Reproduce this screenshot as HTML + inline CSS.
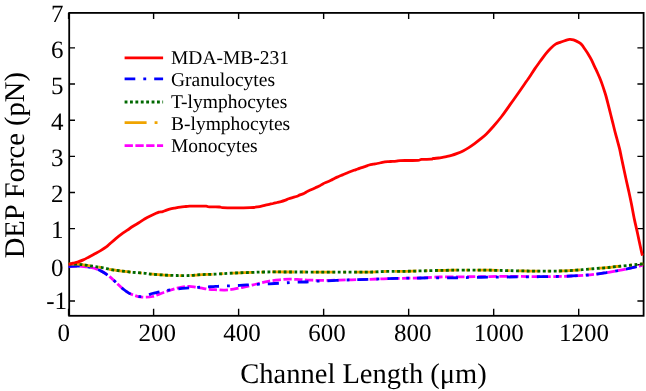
<!DOCTYPE html>
<html><head><meta charset="utf-8"><style>
html,body{margin:0;padding:0;background:#fff;}
svg{display:block;will-change:transform;}
text{text-rendering:geometricPrecision;}
text{font-family:"Liberation Serif",serif;fill:#000;}
</style></head><body>
<svg width="646" height="391" viewBox="0 0 646 391">
<rect width="646" height="391" fill="#fff"/>

<g stroke="#000" stroke-width="1.4" fill="none">
<path d="M68.58,315.80 V308.80 M68.58,12.90 V18.90 M153.60,315.80 V308.80 M153.60,12.90 V18.90 M238.62,315.80 V308.80 M238.62,12.90 V18.90 M323.64,315.80 V308.80 M323.64,12.90 V18.90 M408.66,315.80 V308.80 M408.66,12.90 V18.90 M493.68,315.80 V308.80 M493.68,12.90 V18.90 M578.70,315.80 V308.80 M578.70,12.90 V18.90 M69.20,300.95 H75.00 M643.60,300.95 H637.40 M69.20,264.80 H75.00 M643.60,264.80 H637.40 M69.20,228.65 H75.00 M643.60,228.65 H637.40 M69.20,192.50 H75.00 M643.60,192.50 H637.40 M69.20,156.35 H75.00 M643.60,156.35 H637.40 M69.20,120.20 H75.00 M643.60,120.20 H637.40 M69.20,84.05 H75.00 M643.60,84.05 H637.40 M69.20,47.90 H75.00 M643.60,47.90 H637.40"/>
</g>
<rect x="69.2" y="12.9" width="574.4" height="302.90000000000003" fill="none" stroke="#000" stroke-width="1.8"/>
<g fill="none" stroke-linejoin="round">
<path d="M68.60,266.50 C70.13,266.45 75.20,266.20 77.80,266.20 C80.40,266.20 82.07,266.30 84.20,266.50 C86.33,266.70 88.47,266.97 90.60,267.40 C92.73,267.83 94.88,268.28 97.00,269.10 C99.12,269.92 101.18,271.03 103.30,272.30 C105.42,273.57 107.57,275.00 109.70,276.70 C111.83,278.40 113.97,280.53 116.10,282.50 C118.23,284.47 120.37,286.73 122.50,288.50 C124.63,290.27 126.77,291.92 128.90,293.10 C131.03,294.28 133.45,294.97 135.30,295.60 C137.15,296.23 138.18,296.63 140.00,296.90 C141.82,297.17 144.13,297.27 146.20,297.20 C148.27,297.13 150.33,296.97 152.40,296.50 C154.47,296.03 156.53,295.15 158.60,294.40 C160.67,293.65 162.73,292.73 164.80,292.00 C166.87,291.27 168.93,290.63 171.00,290.00 C173.07,289.37 175.15,288.72 177.20,288.20 C179.25,287.68 181.25,287.20 183.30,286.90 C185.35,286.60 187.43,286.35 189.50,286.40 C191.57,286.45 193.63,286.90 195.70,287.20 C197.77,287.50 199.83,287.87 201.90,288.20 C203.97,288.53 205.92,288.95 208.10,289.20 C210.28,289.45 212.20,289.55 215.00,289.70 C217.80,289.85 221.80,290.20 224.90,290.10 C228.00,290.00 230.08,289.68 233.60,289.10 C237.12,288.52 241.88,287.53 246.00,286.60 C250.12,285.67 254.60,284.38 258.30,283.50 C262.00,282.62 264.68,281.92 268.20,281.30 C271.72,280.68 275.77,280.15 279.40,279.80 C283.03,279.45 286.58,279.23 290.00,279.20 C293.42,279.17 296.60,279.45 299.90,279.60 C303.20,279.75 306.28,279.97 309.80,280.10 C313.32,280.23 316.05,280.40 321.00,280.40 C325.95,280.40 334.35,280.20 339.50,280.10 C344.65,280.00 347.35,279.92 351.90,279.80 C356.45,279.68 361.52,279.57 366.80,279.40 C372.08,279.23 377.70,278.98 383.60,278.80 C389.50,278.62 396.02,278.43 402.20,278.30 C408.38,278.17 414.40,278.22 420.70,278.00 C427.00,277.78 430.58,277.22 440.00,277.00 C449.42,276.78 464.82,276.82 477.20,276.70 C489.58,276.58 503.87,276.30 514.30,276.30 C524.73,276.30 531.43,276.70 539.80,276.70 C548.17,276.70 557.28,276.52 564.50,276.30 C571.72,276.08 577.82,275.75 583.10,275.40 C588.38,275.05 592.30,274.67 596.20,274.20 C600.10,273.73 603.08,273.17 606.50,272.60 C609.92,272.03 613.28,271.43 616.70,270.80 C620.12,270.17 623.58,269.52 627.00,268.80 C630.42,268.08 634.53,267.13 637.20,266.50 C639.87,265.87 642.03,265.25 643.00,265.00" stroke="#ff00ff" stroke-width="2.8" stroke-dasharray="8.3,2.5"/>
<path d="M68.60,266.50 C70.13,266.45 75.20,266.20 77.80,266.20 C80.40,266.20 82.07,266.30 84.20,266.50 C86.33,266.70 88.47,266.97 90.60,267.40 C92.73,267.83 94.88,268.28 97.00,269.10 C99.12,269.92 101.18,271.03 103.30,272.30 C105.42,273.57 107.57,275.00 109.70,276.70 C111.83,278.40 113.97,280.53 116.10,282.50 C118.23,284.47 120.37,286.73 122.50,288.50 C124.63,290.27 126.77,291.92 128.90,293.10 C131.03,294.28 133.17,295.02 135.30,295.60 C137.43,296.18 139.68,296.65 141.70,296.60 C143.72,296.55 145.62,295.82 147.40,295.30 C149.18,294.78 150.63,294.02 152.40,293.50 C154.17,292.98 155.73,292.70 158.00,292.20 C160.27,291.70 162.80,291.02 166.00,290.50 C169.20,289.98 173.90,289.48 177.20,289.10 C180.50,288.72 182.72,288.47 185.80,288.20 C188.88,287.93 192.40,287.70 195.70,287.50 C199.00,287.30 202.30,287.18 205.60,287.00 C208.90,286.82 212.08,286.57 215.50,286.40 C218.92,286.23 222.05,286.17 226.10,286.00 C230.15,285.83 235.05,285.67 239.80,285.40 C244.55,285.13 249.65,284.67 254.60,284.40 C259.55,284.13 264.55,284.05 269.50,283.80 C274.45,283.55 280.05,283.15 284.30,282.90 C288.55,282.65 291.57,282.45 295.00,282.30 C298.43,282.15 301.60,282.17 304.90,282.00 C308.20,281.83 311.08,281.50 314.80,281.30 C318.52,281.10 322.25,281.00 327.20,280.80 C332.15,280.60 339.15,280.30 344.50,280.10 C349.85,279.90 352.78,279.82 359.30,279.60 C365.82,279.38 376.45,279.02 383.60,278.80 C390.75,278.58 396.02,278.43 402.20,278.30 C408.38,278.17 412.95,278.07 420.70,278.00 C428.45,277.93 439.28,278.02 448.70,277.90 C458.12,277.78 467.50,277.45 477.20,277.30 C486.90,277.15 496.47,277.10 506.90,277.00 C517.33,276.90 530.20,276.82 539.80,276.70 C549.40,276.58 557.28,276.52 564.50,276.30 C571.72,276.08 577.82,275.75 583.10,275.40 C588.38,275.05 592.30,274.67 596.20,274.20 C600.10,273.73 603.08,273.17 606.50,272.60 C609.92,272.03 613.28,271.43 616.70,270.80 C620.12,270.17 623.58,269.52 627.00,268.80 C630.42,268.08 634.53,267.13 637.20,266.50 C639.87,265.87 642.03,265.25 643.00,265.00" stroke="#0000ff" stroke-width="2.8" stroke-dasharray="11,8,2.9,8"/>
<path d="M68.60,264.00 C70.13,264.03 75.20,264.03 77.80,264.20 C80.40,264.37 82.07,264.72 84.20,265.00 C86.33,265.28 88.47,265.58 90.60,265.90 C92.73,266.22 94.88,266.58 97.00,266.90 C99.12,267.22 101.18,267.40 103.30,267.80 C105.42,268.20 107.57,268.88 109.70,269.30 C111.83,269.72 113.97,270.00 116.10,270.30 C118.23,270.60 120.37,270.83 122.50,271.10 C124.63,271.37 126.77,271.67 128.90,271.90 C131.03,272.13 132.62,272.27 135.30,272.50 C137.98,272.73 142.15,273.02 145.00,273.30 C147.85,273.58 149.10,273.90 152.40,274.20 C155.70,274.50 160.67,274.88 164.80,275.10 C168.93,275.32 173.08,275.43 177.20,275.50 C181.32,275.57 185.38,275.65 189.50,275.50 C193.62,275.35 197.65,274.82 201.90,274.60 C206.15,274.38 210.75,274.40 215.00,274.20 C219.25,274.00 223.27,273.63 227.40,273.40 C231.53,273.17 235.67,272.97 239.80,272.80 C243.93,272.63 248.08,272.53 252.20,272.40 C256.32,272.27 257.37,272.07 264.50,272.00 C271.63,271.93 278.25,271.98 295.00,272.00 C311.75,272.02 350.23,272.18 365.00,272.10 C379.77,272.02 377.40,271.62 383.60,271.50 C389.80,271.38 396.02,271.50 402.20,271.40 C408.38,271.30 413.57,271.08 420.70,270.90 C427.83,270.72 437.65,270.43 445.00,270.30 C452.35,270.17 457.38,270.12 464.80,270.10 C472.22,270.08 480.30,270.07 489.50,270.20 C498.70,270.33 511.62,270.75 520.00,270.90 C528.38,271.05 532.38,271.10 539.80,271.10 C547.22,271.10 558.32,271.07 564.50,270.90 C570.68,270.73 573.32,270.35 576.90,270.10 C580.48,269.85 582.78,269.67 586.00,269.40 C589.22,269.13 592.78,268.78 596.20,268.50 C599.62,268.22 603.08,268.03 606.50,267.70 C609.92,267.37 613.28,266.87 616.70,266.50 C620.12,266.13 623.58,265.83 627.00,265.50 C630.42,265.17 634.48,264.77 637.20,264.50 C639.92,264.23 642.28,264.00 643.30,263.90" stroke="#f0a400" stroke-width="2.8" stroke-dasharray="22,8,2.9,8"/>
<path d="M68.60,264.00 C70.13,264.03 75.20,264.03 77.80,264.20 C80.40,264.37 82.07,264.72 84.20,265.00 C86.33,265.28 88.47,265.58 90.60,265.90 C92.73,266.22 94.88,266.58 97.00,266.90 C99.12,267.22 101.18,267.40 103.30,267.80 C105.42,268.20 107.57,268.88 109.70,269.30 C111.83,269.72 113.97,270.00 116.10,270.30 C118.23,270.60 120.37,270.83 122.50,271.10 C124.63,271.37 126.77,271.67 128.90,271.90 C131.03,272.13 132.62,272.27 135.30,272.50 C137.98,272.73 142.15,273.02 145.00,273.30 C147.85,273.58 149.10,273.90 152.40,274.20 C155.70,274.50 160.67,274.88 164.80,275.10 C168.93,275.32 173.08,275.43 177.20,275.50 C181.32,275.57 185.38,275.65 189.50,275.50 C193.62,275.35 197.65,274.82 201.90,274.60 C206.15,274.38 210.75,274.40 215.00,274.20 C219.25,274.00 223.27,273.63 227.40,273.40 C231.53,273.17 235.67,272.97 239.80,272.80 C243.93,272.63 248.08,272.53 252.20,272.40 C256.32,272.27 257.37,272.07 264.50,272.00 C271.63,271.93 278.25,271.98 295.00,272.00 C311.75,272.02 350.23,272.18 365.00,272.10 C379.77,272.02 377.40,271.62 383.60,271.50 C389.80,271.38 396.02,271.50 402.20,271.40 C408.38,271.30 413.57,271.08 420.70,270.90 C427.83,270.72 437.65,270.43 445.00,270.30 C452.35,270.17 457.38,270.12 464.80,270.10 C472.22,270.08 480.30,270.07 489.50,270.20 C498.70,270.33 511.62,270.75 520.00,270.90 C528.38,271.05 532.38,271.10 539.80,271.10 C547.22,271.10 558.32,271.07 564.50,270.90 C570.68,270.73 573.32,270.35 576.90,270.10 C580.48,269.85 582.78,269.67 586.00,269.40 C589.22,269.13 592.78,268.78 596.20,268.50 C599.62,268.22 603.08,268.03 606.50,267.70 C609.92,267.37 613.28,266.87 616.70,266.50 C620.12,266.13 623.58,265.83 627.00,265.50 C630.42,265.17 634.48,264.77 637.20,264.50 C639.92,264.23 642.28,264.00 643.30,263.90" stroke="#006800" stroke-width="2.8" stroke-dasharray="2.85,2.55"/>
<path d="M68.60,264.50 C69.32,264.28 71.42,263.60 72.90,263.20 C74.38,262.80 75.77,262.65 77.50,262.10 C79.23,261.55 81.38,260.77 83.30,259.90 C85.22,259.03 87.08,257.92 89.00,256.90 C90.92,255.88 92.87,254.85 94.80,253.80 C96.73,252.75 98.68,251.75 100.60,250.60 C102.52,249.45 104.73,248.07 106.30,246.90 C107.87,245.73 108.42,244.98 110.00,243.60 C111.58,242.22 113.88,240.17 115.80,238.60 C117.72,237.03 119.58,235.60 121.50,234.20 C123.42,232.80 125.38,231.52 127.30,230.20 C129.22,228.88 131.08,227.53 133.00,226.30 C134.92,225.07 136.87,224.02 138.80,222.80 C140.73,221.58 142.68,220.15 144.60,219.00 C146.52,217.85 148.57,216.77 150.30,215.90 C152.03,215.03 153.57,214.42 155.00,213.80 C156.43,213.18 157.62,212.57 158.90,212.20 C160.18,211.83 161.42,211.95 162.70,211.60 C163.98,211.25 165.30,210.55 166.60,210.10 C167.90,209.65 169.22,209.22 170.50,208.90 C171.78,208.58 173.02,208.45 174.30,208.20 C175.58,207.95 176.90,207.63 178.20,207.40 C179.50,207.17 180.80,206.95 182.10,206.80 C183.40,206.65 184.72,206.62 186.00,206.50 C187.28,206.38 188.52,206.17 189.80,206.10 C191.08,206.03 192.00,206.10 193.70,206.10 C195.40,206.10 197.92,206.08 200.00,206.10 C202.08,206.12 204.65,206.07 206.20,206.20 C207.75,206.33 207.12,206.77 209.30,206.90 C211.48,207.03 217.12,206.87 219.30,207.00 C221.48,207.13 220.62,207.57 222.40,207.70 C224.18,207.83 227.07,207.78 230.00,207.80 C232.93,207.82 236.67,207.82 240.00,207.80 C243.33,207.78 247.68,207.75 250.00,207.70 C252.32,207.65 252.62,207.63 253.90,207.50 C255.18,207.37 256.42,207.13 257.70,206.90 C258.98,206.67 260.30,206.40 261.60,206.10 C262.90,205.80 264.22,205.40 265.50,205.10 C266.78,204.80 268.02,204.57 269.30,204.30 C270.58,204.03 271.90,203.80 273.20,203.50 C274.50,203.20 275.80,202.82 277.10,202.50 C278.40,202.18 279.72,201.95 281.00,201.60 C282.28,201.25 283.52,200.87 284.80,200.40 C286.08,199.93 287.40,199.27 288.70,198.80 C290.00,198.33 291.32,197.98 292.60,197.60 C293.88,197.22 295.17,196.95 296.40,196.50 C297.63,196.05 298.75,195.40 300.00,194.90 C301.25,194.40 302.62,194.10 303.90,193.50 C305.18,192.90 306.42,191.97 307.70,191.30 C308.98,190.63 310.30,190.10 311.60,189.50 C312.90,188.90 314.22,188.28 315.50,187.70 C316.78,187.12 318.02,186.67 319.30,186.00 C320.58,185.33 321.90,184.37 323.20,183.70 C324.50,183.03 325.80,182.57 327.10,182.00 C328.40,181.43 329.72,180.93 331.00,180.30 C332.28,179.67 333.52,178.83 334.80,178.20 C336.08,177.57 337.40,177.05 338.70,176.50 C340.00,175.95 341.32,175.43 342.60,174.90 C343.88,174.37 345.17,173.82 346.40,173.30 C347.63,172.78 348.75,172.30 350.00,171.80 C351.25,171.30 352.62,170.77 353.90,170.30 C355.18,169.83 356.42,169.45 357.70,169.00 C358.98,168.55 360.30,168.05 361.60,167.60 C362.90,167.15 364.22,166.73 365.50,166.30 C366.78,165.87 368.02,165.35 369.30,165.00 C370.58,164.65 371.90,164.45 373.20,164.20 C374.50,163.95 375.80,163.75 377.10,163.50 C378.40,163.25 379.72,162.97 381.00,162.70 C382.28,162.43 383.52,162.08 384.80,161.90 C386.08,161.72 387.40,161.68 388.70,161.60 C390.00,161.52 391.32,161.48 392.60,161.40 C393.88,161.32 395.17,161.23 396.40,161.10 C397.63,160.97 398.12,160.70 400.00,160.60 C401.88,160.50 404.70,160.53 407.70,160.50 C410.70,160.47 415.67,160.58 418.00,160.40 C420.33,160.22 419.53,159.60 421.70,159.40 C423.87,159.20 429.07,159.35 431.00,159.20 C432.93,159.05 432.02,158.70 433.30,158.50 C434.58,158.30 437.15,158.20 438.70,158.00 C440.25,157.80 441.32,157.53 442.60,157.30 C443.88,157.07 444.92,156.92 446.40,156.60 C447.88,156.28 449.68,155.93 451.50,155.40 C453.32,154.87 455.38,154.15 457.30,153.40 C459.22,152.65 461.08,151.87 463.00,150.90 C464.92,149.93 466.87,148.82 468.80,147.60 C470.73,146.38 472.68,145.00 474.60,143.60 C476.52,142.20 478.33,140.82 480.30,139.20 C482.27,137.58 484.23,136.02 486.40,133.90 C488.57,131.78 490.77,129.40 493.30,126.50 C495.83,123.60 498.83,120.10 501.60,116.50 C504.37,112.90 507.13,108.77 509.90,104.90 C512.67,101.03 515.43,97.23 518.20,93.30 C520.97,89.37 524.45,84.27 526.50,81.30 C528.55,78.33 529.07,77.65 530.50,75.50 C531.93,73.35 533.48,70.77 535.10,68.40 C536.72,66.03 538.50,63.65 540.20,61.30 C541.90,58.95 543.58,56.43 545.30,54.30 C547.02,52.17 548.78,50.20 550.50,48.50 C552.22,46.80 553.90,45.17 555.60,44.10 C557.30,43.03 559.00,42.73 560.70,42.10 C562.40,41.47 564.32,40.75 565.80,40.30 C567.28,39.85 568.32,39.47 569.60,39.40 C570.88,39.33 572.00,39.42 573.50,39.90 C575.00,40.38 577.22,41.48 578.60,42.30 C579.98,43.12 580.77,43.68 581.80,44.80 C582.83,45.92 583.70,47.40 584.80,49.00 C585.90,50.60 587.28,52.58 588.40,54.40 C589.52,56.22 590.47,57.87 591.50,59.90 C592.53,61.93 593.58,64.42 594.60,66.60 C595.62,68.78 596.72,71.05 597.60,73.00 C598.48,74.95 599.13,76.40 599.90,78.30 C600.67,80.20 601.45,82.28 602.20,84.40 C602.95,86.52 603.75,88.98 604.40,91.00 C605.05,93.02 605.43,94.12 606.10,96.50 C606.77,98.88 607.63,102.30 608.40,105.30 C609.17,108.30 609.93,111.43 610.70,114.50 C611.47,117.57 612.23,120.63 613.00,123.70 C613.77,126.77 614.53,129.97 615.30,132.90 C616.07,135.83 616.88,138.63 617.60,141.30 C618.32,143.97 619.00,146.37 619.60,148.90 C620.20,151.43 620.48,153.12 621.20,156.50 C621.92,159.88 623.02,165.07 623.90,169.20 C624.78,173.33 625.63,177.37 626.50,181.30 C627.37,185.23 628.27,188.98 629.10,192.80 C629.93,196.62 630.62,199.77 631.50,204.20 C632.38,208.63 633.50,215.03 634.40,219.40 C635.30,223.77 636.10,226.75 636.90,230.40 C637.70,234.05 638.48,237.95 639.20,241.30 C639.92,244.65 640.67,248.12 641.20,250.50 C641.73,252.88 642.20,254.75 642.40,255.60" stroke="#ff0000" stroke-width="2.8"/>
</g>
<g font-size="25"><text x="63.85" y="341.00" text-anchor="middle">0</text><text x="157.15" y="341.00" text-anchor="middle">200</text><text x="242.05" y="341.00" text-anchor="middle">400</text><text x="327.05" y="341.00" text-anchor="middle">600</text><text x="412.65" y="341.00" text-anchor="middle">800</text><text x="498.80" y="341.00" text-anchor="middle">1000</text><text x="583.90" y="341.00" text-anchor="middle">1200</text></g>
<g font-size="25"><text x="67.00" y="309.35" text-anchor="end">-1</text><text x="63.60" y="276.00" text-anchor="end">0</text><text x="63.60" y="238.25" text-anchor="end">1</text><text x="63.60" y="202.10" text-anchor="end">2</text><text x="63.60" y="165.95" text-anchor="end">3</text><text x="63.60" y="129.80" text-anchor="end">4</text><text x="63.60" y="93.65" text-anchor="end">5</text><text x="63.60" y="57.50" text-anchor="end">6</text><text x="63.60" y="22.15" text-anchor="end">7</text></g>
<g font-size="19.5"><path d="M124.6,57.90 H163.1" fill="none" stroke="#ff0000" stroke-width="2.8"/><text x="171" y="64.00">MDA-MB-231</text><path d="M124.6,78.80 H163.1" fill="none" stroke="#0000ff" stroke-width="2.8" stroke-dasharray="11,8,2.9,8" stroke-dashoffset="0.3"/><text x="171" y="86.00">Granulocytes</text><path d="M124.6,102.00 H163.1" fill="none" stroke="#006800" stroke-width="2.8" stroke-dasharray="2.85,2.55"/><text x="171" y="108.00">T-lymphocytes</text><path d="M124.6,122.60 H163.1" fill="none" stroke="#f0a400" stroke-width="2.8" stroke-dasharray="22,8,2.9,8"/><text x="171" y="130.00">B-lymphocytes</text><path d="M124.6,145.60 H163.1" fill="none" stroke="#ff00ff" stroke-width="2.8" stroke-dasharray="8.3,2.5"/><text x="171" y="152.00">Monocytes</text></g>
<text x="240.3" y="382.6" font-size="28.5" textLength="246.5" lengthAdjust="spacingAndGlyphs">Channel Length (&#956;m)</text>
<text transform="translate(24.2,258.3) rotate(-90)" font-size="28.5" textLength="186.3" lengthAdjust="spacingAndGlyphs">DEP Force (pN)</text>
</svg>
</body></html>
